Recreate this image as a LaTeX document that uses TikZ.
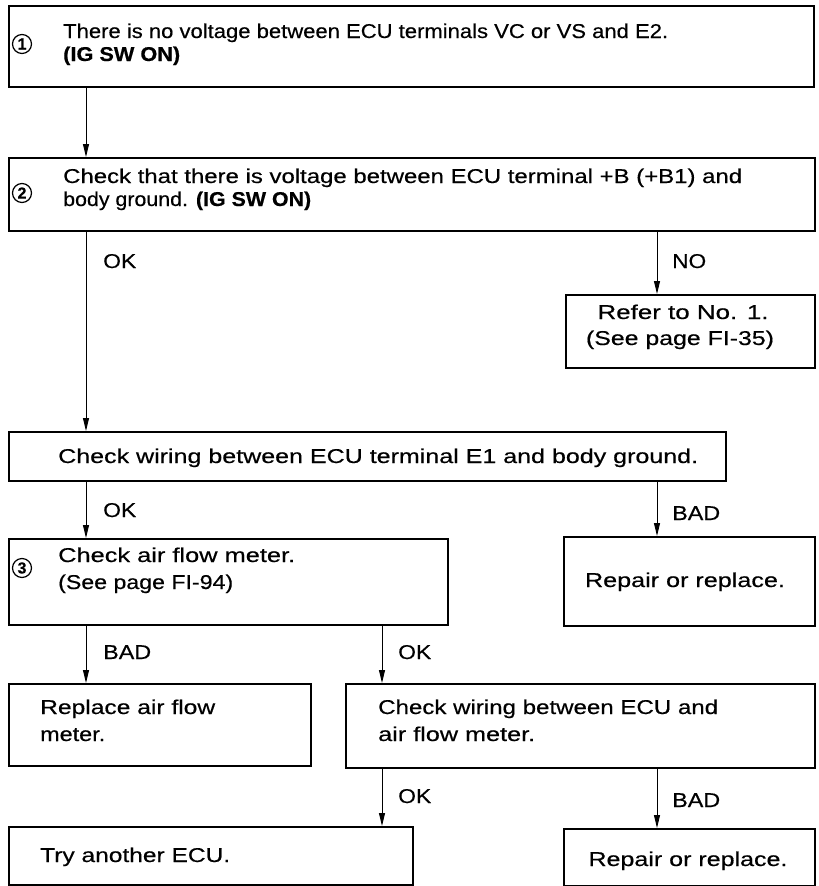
\documentclass[tikz,border=0pt]{standalone}
\usepackage{fontspec}
\usepackage{graphicx}
\setmainfont{Liberation Sans}[FakeBold=0.4]
\usetikzlibrary{arrows.meta}
\newcommand\myfs{\fontsize{20}{24}\selectfont}
\newlength\fitlen
\newcommand\fitto[2]{\settowidth\fitlen{#2}\pgfmathsetmacro\fitfac{#1/\fitlen}\scalebox{\fitfac}[1]{#2}}
\begin{document}
\begin{tikzpicture}[x=1pt,y=-1pt,
  box/.style={draw, line width=1.7pt, anchor=north west, inner sep=0pt},
  txt/.style={anchor=base west, inner sep=0pt, font=\myfs},
  ctxt/.style={anchor=base, inner sep=0pt, font=\myfs},
  arr/.style={line width=1pt, -{Triangle[length=13pt,width=6pt]}},
  num/.style={draw, circle, line width=1.2pt, minimum size=19pt, inner sep=0pt, font=\bfseries\fontsize{16}{16}\selectfont}
]
\useasboundingbox (0,0) rectangle (819,886);
\fill[white] (0,0) rectangle (819,886);
\coordinate (xa) at (86,0);
\coordinate (xb) at (382,0);
\coordinate (xc) at (657,0);

% box 1
\node[box, minimum width=805pt, minimum height=81pt] (b1) at (8,5) {};
\node[num] (n1) at (22,44) {1};
\node[txt] (t1a) at (63,38) {\fitto{605}{There is no voltage between ECU terminals VC or VS and E2.}};
\node[txt] (t1b) at (63,61) {\fitto{117}{\bfseries (IG SW ON)}};

% box 2
\node[box, minimum width=806pt, minimum height=73pt] (b2) at (8,157) {};
\node[num] (n2) at (22,193) {2};
\node[txt] (t2a) at (63,183) {\fitto{679}{Check that there is voltage between ECU terminal +B (+B1) and}};
\node[txt] (t2b) at (63,206) {\fitto{248}{body ground. \textbf{(IG SW ON)}}};

% refer box
\node[box, minimum width=249pt, minimum height=73pt] (rf) at (565,294) {};
\node[ctxt] (rfa) at (683,319) {\fitto{171}{Refer to No. 1.}};
\node[ctxt] (rfb) at (680,345) {\fitto{188}{(See page FI-35)}};

% E1 box
\node[box, minimum width=717pt, minimum height=49pt] (e1) at (8,431) {};
\node[txt] (e1t) at (58,463) {\fitto{640}{Check wiring between ECU terminal E1 and body ground.}};

% box 3
\node[box, minimum width=439pt, minimum height=86pt] (b3) at (8,538) {};
\node[num] (n3) at (22,568) {3};
\node[txt] (b3a) at (58,562) {\fitto{237}{Check air flow meter.}};
\node[txt] (b3b) at (58,589) {\fitto{175}{(See page FI-94)}};

% repair 1
\node[box, minimum width=251pt, minimum height=89pt] (r1) at (563,536) {};
\node[ctxt] (r1t) at (685,587) {\fitto{200}{Repair or replace.}};

% replace
\node[box, minimum width=302pt, minimum height=82pt] (rp) at (8,683) {};
\node[txt] (rpa) at (40,714) {\fitto{175}{Replace air flow}};
\node[txt] (rpb) at (40,741) {\fitto{65}{meter.}};

% check wiring
\node[box, minimum width=469pt, minimum height=84pt] (cw) at (345,683) {};
\node[txt] (cwa) at (378,714) {\fitto{340}{Check wiring between ECU and}};
\node[txt] (cwb) at (378,741) {\fitto{157}{air flow meter.}};

% try
\node[box, minimum width=404pt, minimum height=58pt] (tr) at (8,826) {};
\node[txt] (trt) at (40,862) {\fitto{190}{Try another ECU.}};

% repair 2
\node[box, minimum width=251pt, minimum height=57pt] (r2) at (563,828) {};
\node[ctxt] (r2t) at (688,866) {\fitto{199}{Repair or replace.}};

% connectors
\draw[arr] (b1.south -| xa) -- (b2.north -| xa);
\draw[arr] (b2.south -| xa) -- (e1.north -| xa);
\node[txt] (l1) at (103,268) {\fitto{33}{OK}};
\draw[arr] (b2.south -| xc) -- (rf.north -| xc);
\node[txt] (l2) at (672,268) {\fitto{34}{NO}};
\draw[arr] (e1.south -| xa) -- (b3.north -| xa);
\node[txt] (l3) at (103,517) {\fitto{33}{OK}};
\draw[arr] (e1.south -| xc) -- (r1.north -| xc);
\node[txt] (l4) at (672,520) {\fitto{48}{BAD}};
\draw[arr] (b3.south -| xa) -- (rp.north -| xa);
\node[txt] (l5) at (103,659) {\fitto{48}{BAD}};
\draw[arr] (b3.south -| xb) -- (cw.north -| xb);
\node[txt] (l6) at (398,659) {\fitto{33}{OK}};
\draw[arr] (cw.south -| xb) -- (tr.north -| xb);
\node[txt] (l7) at (398,803) {\fitto{33}{OK}};
\draw[arr] (cw.south -| xc) -- (r2.north -| xc);
\node[txt] (l8) at (672,807) {\fitto{48}{BAD}};
\end{tikzpicture}
\end{document}
